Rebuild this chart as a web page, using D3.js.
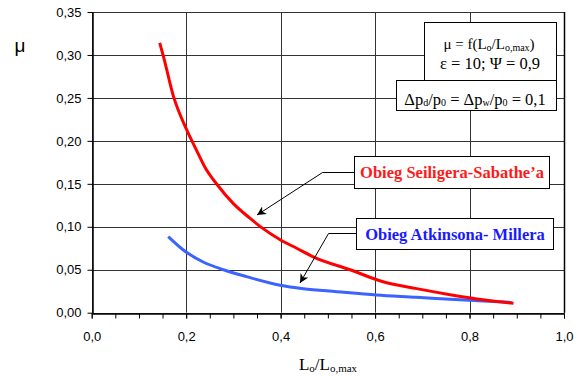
<!DOCTYPE html>
<html>
<head>
<meta charset="utf-8">
<script src="https://cdn.jsdelivr.net/npm/d3@7"></script>
<style>
  body { margin: 0; background: #fff; }
  svg { display: block; }
  .tick text { font-family: "Liberation Sans", Arial, sans-serif; font-size: 13px; fill: #000; }
</style>
</head>
<body>
<svg width="574" height="376"></svg>
<script>
// data
const redX  = [0.144, 0.152, 0.173, 0.201, 0.222, 0.241, 0.265, 0.300, 0.335, 0.360, 0.399, 0.434, 0.469, 0.547, 0.617, 0.688, 0.759, 0.829, 0.893]
const redY  = [0.314, 0.298, 0.252, 0.213, 0.189, 0.168, 0.1495, 0.127, 0.110, 0.099, 0.085, 0.075, 0.065, 0.050, 0.036, 0.028, 0.021, 0.015, 0.011]
const blueX = [0.162, 0.194, 0.236, 0.279, 0.328, 0.399, 0.448, 0.519, 0.603, 0.688, 0.759, 0.829, 0.889]
const blueY = [0.0885, 0.073, 0.059, 0.050, 0.042, 0.032, 0.028, 0.0245, 0.0206, 0.018, 0.0156, 0.0136, 0.012]
const xTicks = [0, 0.2, 0.4, 0.6, 0.8, 1.0]
const xMinor = d3.range(0, 1.0001, 0.05)
const yTicks = [0, 0.05, 0.10, 0.15, 0.20, 0.25, 0.30, 0.35]

const svg = d3.select('svg')
const pLeft = 91.7, pRight = 564, pTop = 12, pBottom = 312.7

const x = d3.scaleLinear().domain([0, 1]).range([pLeft, pRight])
const y = d3.scaleLinear().domain([0, 0.35]).range([pBottom, pTop])

// grid
const grid = svg.append('g').attr('stroke', '#333').attr('stroke-width', 1)
grid.selectAll('.hg').data(yTicks).join('line')
    .attr('x1', pLeft).attr('x2', pRight)
    .attr('y1', d => Math.round(y(d)) + 0.5).attr('y2', d => Math.round(y(d)) + 0.5)
grid.selectAll('.vg').data(xTicks).join('line')
    .attr('y1', pTop).attr('y2', pBottom)
    .attr('x1', d => Math.round(x(d)) + 0.5).attr('x2', d => Math.round(x(d)) + 0.5)

// x axis (minor ticks every 0.05, labels every 0.2)
const fmt1 = d => d.toFixed(1).replace('.', ',')
const fmt2 = d => d.toFixed(2).replace('.', ',')
svg.append('g')
    .attr('transform', `translate(0,${Math.round(pBottom) + 0.5})`)
    .call(d3.axisBottom(x).tickValues(xMinor).tickSize(5).tickSizeOuter(0).tickFormat(() => ''))
    .call(g => g.select('.domain').attr('stroke', '#000').attr('stroke-width', 1.5))
svg.append('g')
    .attr('transform', `translate(0,${Math.round(pBottom) + 0.5})`)
    .call(d3.axisBottom(x).tickValues(xTicks).tickSize(5).tickSizeOuter(0).tickPadding(13).tickFormat(fmt1))
    .call(g => g.select('.domain').remove())

svg.append('g')
    .attr('transform', `translate(${Math.round(pLeft) + 0.5},0)`)
    .call(d3.axisLeft(y).tickValues(yTicks).tickSize(5).tickSizeOuter(0).tickPadding(6).tickFormat(fmt2))
    .call(g => g.select('.domain').attr('stroke', '#000').attr('stroke-width', 1.5))

// frame right side
svg.append('line')
    .attr('x1', Math.round(pRight) + 0.5).attr('x2', Math.round(pRight) + 0.5)
    .attr('y1', pTop).attr('y2', pBottom)
    .attr('stroke', '#000').attr('stroke-width', 1.5)

// curves
const line = d3.line().curve(d3.curveMonotoneX).x(d => x(d[0])).y(d => y(d[1]))
svg.append('path')
    .datum(d3.zip(blueX, blueY))
    .attr('d', line)
    .attr('fill', 'none').attr('stroke', '#3a63ff').attr('stroke-width', 3)
svg.append('path')
    .datum(d3.zip(redX, redY))
    .attr('d', line)
    .attr('fill', 'none').attr('stroke', '#ff0000').attr('stroke-width', 3)

// axis titles
svg.append('text')
    .attr('x', 20).attr('y', 52)
    .attr('text-anchor', 'middle')
    .style('font-family', '"Liberation Sans", Arial, sans-serif')
    .style('font-size', '19px')
    .text('μ')

const serif = '"Liberation Serif", "Times New Roman", serif'
const xt = svg.append('text')
    .attr('x', 328).attr('y', 370)
    .attr('text-anchor', 'middle')
    .style('font-family', serif)
    .style('font-size', '17px')
xt.append('tspan').text('L')
xt.append('tspan').attr('font-size', '11px').attr('dy', 2).text('o')
xt.append('tspan').attr('dy', -2).text('/L')
xt.append('tspan').attr('font-size', '11px').attr('dy', 2).text('o,max')

// info boxes
svg.append('rect').attr('x', 424.5).attr('y', 22.5).attr('width', 132).attr('height', 58)
    .attr('fill', '#fff').attr('stroke', '#000').attr('stroke-width', 1)
svg.append('rect').attr('x', 396.5).attr('y', 80.5).attr('width', 160).attr('height', 30)
    .attr('fill', '#fff').attr('stroke', '#000').attr('stroke-width', 1)

const t1 = svg.append('text').attr('x', 489).attr('y', 49).attr('text-anchor', 'middle')
    .style('font-family', serif).style('font-size', '15px')
t1.append('tspan').text('μ = f(L')
t1.append('tspan').attr('font-size', '10px').attr('dy', 2).text('o')
t1.append('tspan').attr('dy', -2).text('/L')
t1.append('tspan').attr('font-size', '10px').attr('dy', 2).text('o,max')
t1.append('tspan').attr('dy', -2).text(')')

svg.append('text').attr('x', 490).attr('y', 69).attr('text-anchor', 'middle')
    .style('font-family', serif).style('font-size', '16.5px')
    .text('ε = 10; Ψ = 0,9')

const t3 = svg.append('text').attr('x', 475).attr('y', 104.5).attr('text-anchor', 'middle')
    .style('font-family', serif).style('font-size', '16.5px')
t3.append('tspan').text('Δp')
t3.append('tspan').attr('font-size', '10px').attr('dy', 1).text('d')
t3.append('tspan').attr('dy', -1).text('/p')
t3.append('tspan').attr('font-size', '10px').attr('dy', 1).text('0')
t3.append('tspan').attr('dy', -1).text(' = Δp')
t3.append('tspan').attr('font-size', '10px').attr('dy', 1).text('w')
t3.append('tspan').attr('dy', -1).text('/p')
t3.append('tspan').attr('font-size', '10px').attr('dy', 1).text('0')
t3.append('tspan').attr('dy', -1).text(' = 0,1')

// series labels with arrows
svg.append('defs').append('marker')
    .attr('id', 'arr').attr('viewBox', '0 0 10 10')
    .attr('refX', 10).attr('refY', 5)
    .attr('markerWidth', 9).attr('markerHeight', 9)
    .attr('markerUnits', 'userSpaceOnUse')
    .attr('orient', 'auto')
    .append('path').attr('d', 'M0,0 L10,5 L0,10 L3,5 Z').attr('fill', '#000')

svg.append('polyline')
    .attr('points', '354,172.5 322.5,172.5 257,215')
    .attr('fill', 'none').attr('stroke', '#000').attr('stroke-width', 1)
    .attr('marker-end', 'url(#arr)')
svg.append('polyline')
    .attr('points', '356,233.5 328.5,233.5 300,283')
    .attr('fill', 'none').attr('stroke', '#000').attr('stroke-width', 1)
    .attr('marker-end', 'url(#arr)')

svg.append('rect').attr('x', 354.5).attr('y', 156.5).attr('width', 195).attr('height', 32)
    .attr('fill', '#fff').attr('stroke', '#000').attr('stroke-width', 1)
svg.append('rect').attr('x', 356.5).attr('y', 218.5).attr('width', 197).attr('height', 31)
    .attr('fill', '#fff').attr('stroke', '#000').attr('stroke-width', 1)

svg.append('text').attr('x', 452).attr('y', 178).attr('text-anchor', 'middle')
    .style('font-family', serif).style('font-size', '16.5px').style('font-weight', 'bold')
    .attr('fill', '#ff1a1a')
    .text('Obieg Seiligera-Sabathe’a')
svg.append('text').attr('x', 455).attr('y', 240).attr('text-anchor', 'middle')
    .style('font-family', serif).style('font-size', '16.5px').style('font-weight', 'bold')
    .attr('fill', '#1a1aff')
    .text('Obieg Atkinsona- Millera')
</script>
</body>
</html>
